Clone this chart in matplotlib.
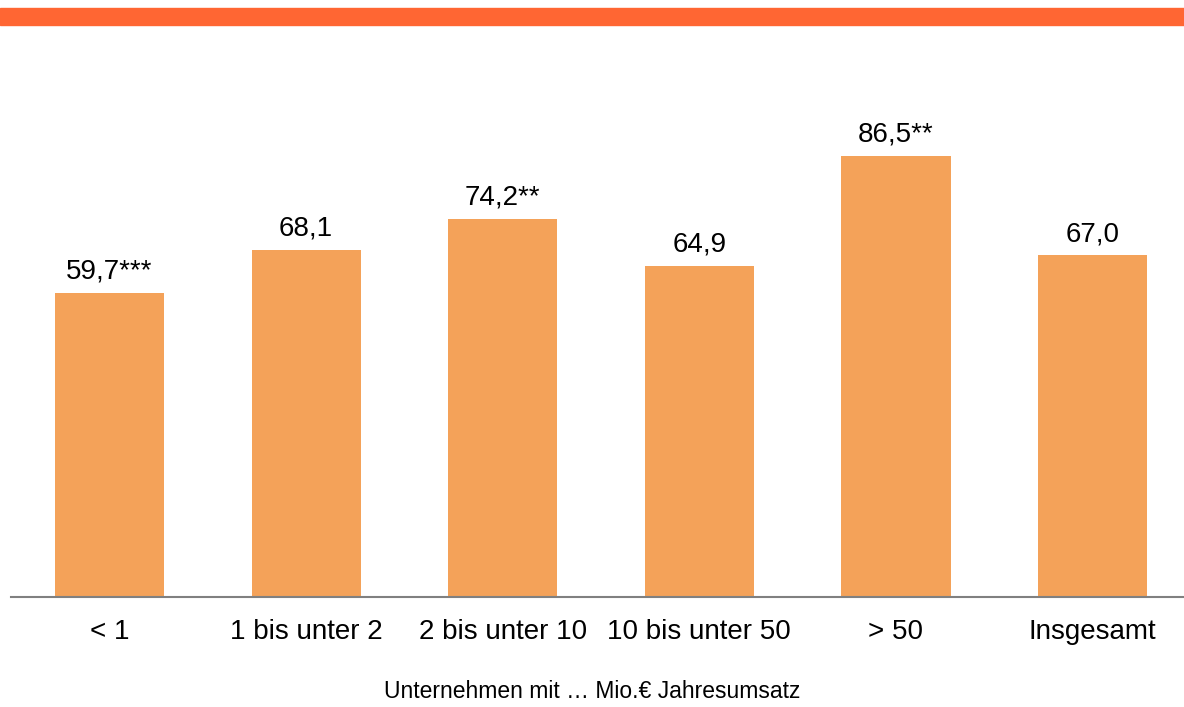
import matplotlib.pyplot as plt
import numpy as np

plt.rcParams['font.family'] = ['Liberation Sans', 'DejaVu Sans']

categories = ['< 1', '1 bis unter 2', '2 bis unter 10', '10 bis unter 50', '> 50', 'Insgesamt']
values = [59.7, 68.1, 74.2, 64.9, 86.5, 67.0]
labels = ['59,7***', '68,1', '74,2**', '64,9', '86,5**', '67,0']

fig = plt.figure(figsize=(11.84, 7.07), dpi=100)
ax = fig.add_axes([11 / 1184, 1 - 597 / 707, 1 - 11 / 1184, 510 / 707])

x = np.arange(len(categories))
ax.bar(x, values, width=0.555, color='#F4A259')
for xi, v, lab in zip(x, values, labels):
    ax.text(xi, v + 2.75, lab, ha='center', va='baseline', fontsize=20)

ax.set_xlim(-0.501, 5.465)
ax.set_ylim(0, 100)
ax.set_xticks(x)
ax.set_xticklabels(categories, fontsize=20)
ax.tick_params(axis='x', length=0, pad=16)
ax.set_yticks([])
for s in ['top', 'left', 'right']:
    ax.spines[s].set_visible(False)
ax.spines['bottom'].set_color('#808080')
ax.spines['bottom'].set_linewidth(1.5)

fig.text(592 / 1184, 1 - 698 / 707, 'Unternehmen mit … Mio.€ Jahresumsatz',
         ha='center', va='baseline', fontsize=16.5)

# orange band on top
fig.patches.append(plt.Rectangle((0, 1 - 25 / 707), 1, 17 / 707,
                                 transform=fig.transFigure, color='#FF6633'))

fig.savefig('out.png', dpi=100)
